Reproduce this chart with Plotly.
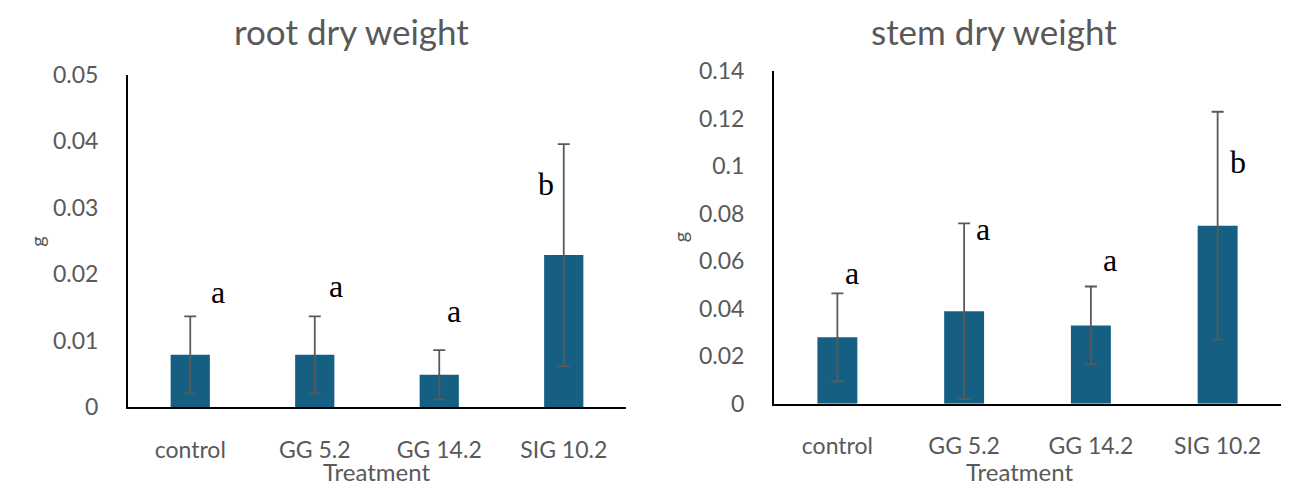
import plotly.graph_objects as go

# treatments and measured values (g)
treatments = ["control", "GG 5.2", "GG 14.2", "SIG 10.2"]

root_mean = [0.0079, 0.0079, 0.0049, 0.0229]
root_err = [0.0058, 0.0058, 0.0037, 0.0167]
root_letters = ["a", "a", "a", "b"]
root_letter_y = [0.0167, 0.0176, 0.0139, 0.0330]
root_letter_dx = [0.225, 0.17, 0.12, -0.14]

stem_mean = [0.028, 0.039, 0.033, 0.075]
stem_err = [0.0185, 0.037, 0.0164, 0.048]
stem_letters = ["a", "a", "a", "b"]
stem_letter_y = [0.0534, 0.0718, 0.059, 0.100]
stem_letter_dx = [0.115, 0.15, 0.15, 0.16]

bar_color = "#156082"
text_grey = "#595959"
font_name = "Lato"

W, H = 1308, 494


def px_x(p):
    return p / W


def px_y(p):
    return 1 - p / H


fig = go.Figure()

for mean, err, xa, ya in [(root_mean, root_err, "x", "y"), (stem_mean, stem_err, "x2", "y2")]:
    fig.add_trace(go.Bar(
        x=treatments, y=mean, xaxis=xa, yaxis=ya,
        marker=dict(color=bar_color, line=dict(width=0)),
        error_y=dict(type="data", array=err, visible=True,
                     color=text_grey, thickness=1.8, width=6),
        showlegend=False,
    ))

annotations = []
# significance letters
for letters, ly, dx, xa, ya in [(root_letters, root_letter_y, root_letter_dx, "x", "y"),
                                (stem_letters, stem_letter_y, stem_letter_dx, "x2", "y2")]:
    for i, (t, y, d) in enumerate(zip(letters, ly, dx)):
        annotations.append(dict(
            x=i + d, y=y, xref=xa, yref=ya, text=t, showarrow=False,
            font=dict(family="Liberation Serif", size=32, color="black"),
            xanchor="center", yanchor="middle", yshift=4,
        ))

# chart titles, x titles and the small "g" y titles
for title, xc, gx, gy in [("root dry weight", 343, 29, 232), ("stem dry weight", 986, 672, 227)]:
    annotations.append(dict(x=px_x(xc), y=px_y(9), xref="paper", yref="paper", text=title,
                            showarrow=False, font=dict(family=font_name, size=35, color=text_grey),
                            xanchor="center", yanchor="middle"))
    annotations.append(dict(x=px_x(xc + 26), y=px_y(475), xref="paper", yref="paper", text="Treatment",
                            showarrow=False, font=dict(family=font_name, size=24, color=text_grey),
                            xanchor="center", yanchor="middle"))
    annotations.append(dict(x=px_x(gx), y=px_y(gy), xref="paper", yref="paper", text="g", textangle=-90,
                            showarrow=False, font=dict(family=font_name, size=20, color=text_grey),
                            xanchor="center", yanchor="middle"))

axis_font = dict(family=font_name, size=23, color=text_grey)
xcommon = dict(showline=True, linecolor="black", linewidth=2, showgrid=False, zeroline=False,
               tickfont=axis_font, ticks="", ticklabelstandoff=21, fixedrange=True)
ycommon = dict(showline=True, linecolor="black", linewidth=2, showgrid=False, zeroline=False,
               tickfont=axis_font, ticks="", ticklabelstandoff=23, fixedrange=True)

fig.update_layout(
    width=W, height=H,
    margin=dict(l=0, r=0, t=0, b=0),
    paper_bgcolor="white", plot_bgcolor="white",
    bargap=0.685,
    xaxis=dict(domain=[px_x(120), px_x(618)], anchor="y", **xcommon),
    yaxis=dict(domain=[px_y(407.5), px_y(55)], anchor="x", range=[0, 0.05],
               dtick=0.01, tickformat="~g", **ycommon),
    xaxis2=dict(domain=[px_x(766), px_x(1273)], anchor="y2", **xcommon),
    yaxis2=dict(domain=[px_y(403.7), px_y(51.3)], anchor="x2", range=[0, 0.14],
                dtick=0.02, tickformat="~g", **ycommon),
    annotations=annotations,
)

fig.write_html("out.html")
